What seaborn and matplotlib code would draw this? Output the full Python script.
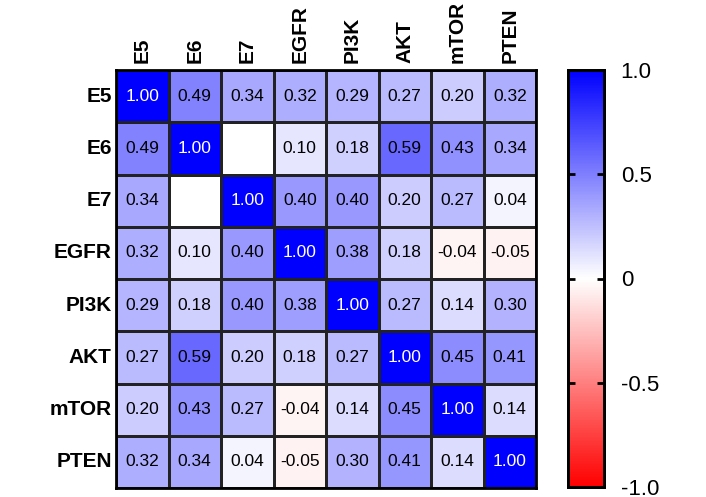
import numpy as np
import pandas as pd
import matplotlib
matplotlib.use("Agg")
import matplotlib.pyplot as plt
import seaborn as sns
from matplotlib.colors import LinearSegmentedColormap

genes = ["E5", "E6", "E7", "EGFR", "PI3K", "AKT", "mTOR", "PTEN"]
row_E5 = [1.00, 0.49, 0.34, 0.32, 0.29, 0.27, 0.20, 0.32]
row_E6 = [0.49, 1.00, np.nan, 0.10, 0.18, 0.59, 0.43, 0.34]
row_E7 = [0.34, np.nan, 1.00, 0.40, 0.40, 0.20, 0.27, 0.04]
row_EGFR = [0.32, 0.10, 0.40, 1.00, 0.38, 0.18, -0.04, -0.05]
row_PI3K = [0.29, 0.18, 0.40, 0.38, 1.00, 0.27, 0.14, 0.30]
row_AKT = [0.27, 0.59, 0.20, 0.18, 0.27, 1.00, 0.45, 0.41]
row_mTOR = [0.20, 0.43, 0.27, -0.04, 0.14, 0.45, 1.00, 0.14]
row_PTEN = [0.32, 0.34, 0.04, -0.05, 0.30, 0.41, 0.14, 1.00]
cbar_ticks = [-1.0, -0.5, 0, 0.5, 1.0]
cbar_labels = ["-1.0", "-0.5", "0", "0.5", "1.0"]

df = pd.DataFrame([row_E5, row_E6, row_E7, row_EGFR, row_PI3K, row_AKT, row_mTOR, row_PTEN],
                  index=genes, columns=genes)

plt.rcParams["font.family"] = ["Liberation Sans", "DejaVu Sans"]

cmap = LinearSegmentedColormap.from_list("rwb", ["#ff0000", "#ffffff", "#0000ff"])

fig = plt.figure(figsize=(7.06, 4.97), dpi=100)
ax = fig.add_axes([116 / 706, 1 - 488 / 497, 420 / 706, 418 / 497])
cax = fig.add_axes([568 / 706, 1 - 487 / 497, 36 / 706, 417 / 497])

sns.heatmap(df, ax=ax, cbar_ax=cax, cmap=cmap, vmin=-1, vmax=1,
            annot=False, linewidths=1, linecolor="#222222", square=False)

# annotations: white on the diagonal, black elsewhere
for i in range(len(genes)):
    for j in range(len(genes)):
        v = df.iloc[i, j]
        if np.isnan(v):
            continue
        ax.text(j + 0.5, i + 0.5, f"{v:.2f}", ha="center", va="center",
                fontsize=12.5, color="white" if v > 0.8 else "black")

ax.xaxis.tick_top()
ax.set_xticklabels(genes, rotation=90, fontsize=15, fontweight="bold")
ax.set_yticklabels(genes, rotation=0, fontsize=15, fontweight="bold")
ax.tick_params(axis="y", length=0, pad=3)
ax.tick_params(axis="x", length=0, pad=5)
ax.set_xlabel("")
ax.set_ylabel("")
for s in ax.spines.values():
    s.set_visible(True)
    s.set_linewidth(2)
    s.set_color("black")

cax.set_yticks(cbar_ticks)
cax.set_yticklabels(cbar_labels, fontsize=16)
cax.tick_params(axis="y", direction="in", length=5, width=2, left=True, right=True, pad=12)
for s in cax.spines.values():
    s.set_visible(True)
    s.set_linewidth(2)
    s.set_color("black")

fig.savefig("out.png", dpi=100)
